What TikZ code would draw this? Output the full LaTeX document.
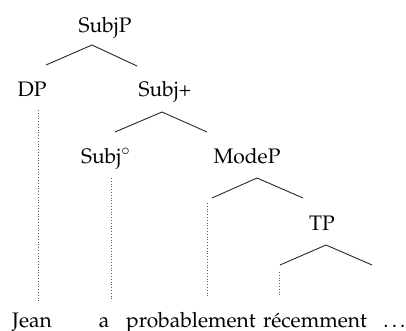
\documentclass[tikz,border=0pt]{standalone}
\IfFileExists{mathpazo.sty}{\usepackage[T1]{fontenc}\usepackage{mathpazo}}{\usepackage{fontspec}\setmainfont{Liberation Serif}}
\usepackage{tikz}
\usetikzlibrary{positioning}

\tikzset{
	label/.style={font=\fontsize{10.5}{12}\selectfont, inner sep=0pt, anchor=base},
	branch/.style={line width=0.45pt, black!85},
	trace/.style={line width=0.4pt, densely dotted, black!65}
}

\begin{document}
\begin{tikzpicture}[x=0.5pt,y=-0.5pt]
		\useasboundingbox (0,0) rectangle (406,331);
		% category labels
		\node[label] (subjp) at (105,33) {SubjP};
		\node[label] (dp) at (32,97) {DP};
		\node[label] (subjplus) at (165,97) {Subj+};
		\node[label] (subjhead) at (106,163) {Subj$^{\circ}$};
		\node[label] (modep) at (247,163) {ModeP};
		\node[label] (tp) at (322,230) {TP};
		% words
		\node[label] (jean) at (32,327) {Jean};
		\node[label] (a) at (104,327) {a};
		\node[label] (probablement) at (191,327) {probablement};
		\node[label] (recemment) at (315,327) {r\'ecemment};
		\node[label] (dots) at (396,327) {\dots};
		% branch points
		\coordinate (subjp-top) at (92,45);
		\coordinate (subjp-l) at (46,65);
		\coordinate (subjp-r) at (137,66);
		\coordinate (subjplus-top) at (162,112);
		\coordinate (subjplus-l) at (115,132);
		\coordinate (subjplus-r) at (207,132);
		\coordinate (modep-top) at (257,178);
		\coordinate (modep-l) at (212,198);
		\coordinate (modep-r) at (303,198);
		\coordinate (tp-top) at (326,245);
		\coordinate (tp-l) at (280,265);
		\coordinate (tp-r) at (372,265);
		\draw[branch] (subjp-l) -- (subjp-top) -- (subjp-r);
		\draw[branch] (subjplus-l) -- (subjplus-top) -- (subjplus-r);
		\draw[branch] (modep-l) -- (modep-top) -- (modep-r);
		\draw[branch] (tp-l) -- (tp-top) -- (tp-r);
		% traces down to the words
		\coordinate (dp-foot) at (38,110);
		\coordinate (jean-top) at (38,303);
		\coordinate (subjhead-foot) at (111,178);
		\coordinate (a-top) at (111,300);
		\coordinate (modep-foot) at (207,203);
		\coordinate (probablement-top) at (207,298);
		\coordinate (tp-foot) at (279,272);
		\coordinate (recemment-top) at (279,297);
		\draw[trace] (dp-foot) -- (jean-top);
		\draw[trace] (subjhead-foot) -- (a-top);
		\draw[trace] (modep-foot) -- (probablement-top);
		\draw[trace] (tp-foot) -- (recemment-top);
	\end{tikzpicture}
\end{document}
